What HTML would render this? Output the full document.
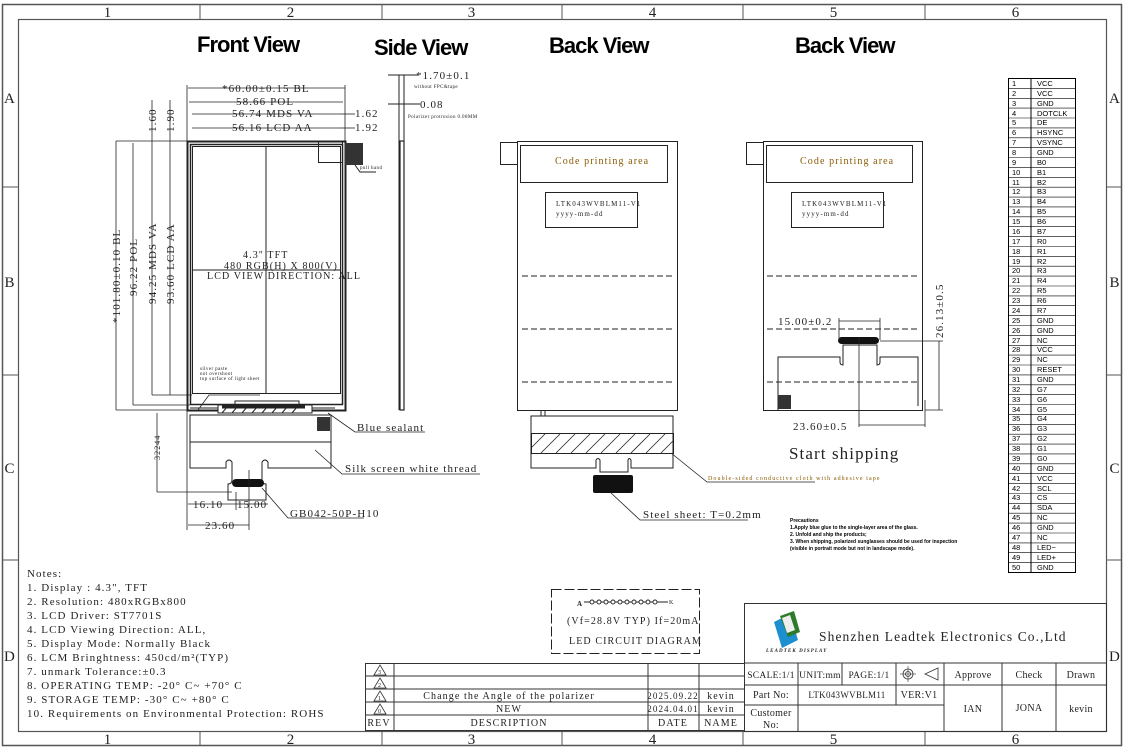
<!DOCTYPE html>
<html><head><meta charset="utf-8"><style>
html,body{margin:0;padding:0;background:#fff;}
svg{display:block;}
text{font-family:"Liberation Serif","Noto Serif CJK SC",serif;fill:#222;letter-spacing:1.1px;}
text.h{font-family:"Liberation Sans",sans-serif;font-weight:bold;font-size:22px;fill:#000;letter-spacing:-1px;}
.s{font-size:11px;}
.m{font-size:10px;}
.t{font-size:5px;letter-spacing:0.4px;}
.p text{font-family:"Liberation Sans",sans-serif;font-size:7.5px;fill:#000;letter-spacing:0;}
.pr text{font-family:"Liberation Sans",sans-serif;font-weight:bold;font-size:5px;fill:#000;letter-spacing:0;}
.tb text{letter-spacing:0.3px;}
.c{fill:#8a5a00;}
</style></head><body>
<svg width="1125" height="747" viewBox="0 0 1125 747" xmlns="http://www.w3.org/2000/svg" fill="none" stroke="#222" stroke-width="1">
<!-- frame -->
<rect x="2.5" y="4.5" width="1119" height="741" stroke="#555" stroke-width="1.5"/>
<rect x="18.5" y="19.5" width="1088" height="712" stroke="#555" stroke-width="1.2"/>
<g stroke="#555">
<line x1="200" y1="4" x2="200" y2="19"/><line x1="382" y1="4" x2="382" y2="19"/><line x1="562" y1="4" x2="562" y2="19"/><line x1="743" y1="4" x2="743" y2="19"/><line x1="925" y1="4" x2="925" y2="19"/>
<line x1="200" y1="731" x2="200" y2="746"/><line x1="382" y1="731" x2="382" y2="746"/><line x1="562" y1="731" x2="562" y2="746"/><line x1="743" y1="731" x2="743" y2="746"/><line x1="925" y1="731" x2="925" y2="746"/>
<line x1="2" y1="187" x2="18" y2="187"/><line x1="2" y1="375" x2="18" y2="375"/><line x1="2" y1="560" x2="18" y2="560"/>
<line x1="1107" y1="187" x2="1122" y2="187"/><line x1="1107" y1="375" x2="1122" y2="375"/><line x1="1107" y1="560" x2="1122" y2="560"/>
</g>
<g font-size="15" text-anchor="middle" stroke="none">
<text x="108" y="17" fill="#246">1</text><text x="291" y="17" fill="#246">2</text><text x="472" y="17" fill="#246">3</text><text x="653" y="17" fill="#246">4</text><text x="834" y="17" fill="#246">5</text><text x="1016" y="17" fill="#246">6</text>
<text x="108" y="744" fill="#246">1</text><text x="291" y="744" fill="#246">2</text><text x="472" y="744" fill="#246">3</text><text x="653" y="744" fill="#246">4</text><text x="834" y="744" fill="#246">5</text><text x="1016" y="744" fill="#246">6</text>
<text x="10" y="103" fill="#246">A</text><text x="10" y="287" fill="#246">B</text><text x="10" y="473" fill="#246">C</text><text x="10" y="661" fill="#246">D</text>
<text x="1115" y="103" fill="#246">A</text><text x="1115" y="287" fill="#246">B</text><text x="1115" y="473" fill="#246">C</text><text x="1115" y="661" fill="#246">D</text>
</g>
<!-- headings -->
<g stroke="none">
<text class="h" x="197" y="52">Front View</text>
<text class="h" x="374" y="55">Side View</text>
<text class="h" x="549" y="53">Back View</text>
<text class="h" x="795" y="53">Back View</text>
</g>

<!-- FRONT VIEW -->
<rect x="187.5" y="141.5" width="158" height="269" stroke-width="2"/>
<rect x="190.5" y="144.5" width="152" height="260" stroke-width="1.5"/>
<rect x="192.5" y="146.5" width="148" height="247"/>
<line x1="266" y1="146" x2="266" y2="393"/>
<line x1="192" y1="270" x2="340" y2="270"/>
<rect x="318.5" y="141.5" width="24" height="21"/>
<rect x="345" y="143" width="18" height="22" fill="#333" stroke="none"/>
<path d="M355 165 L360 172 L376 172"/>
<text class="t" x="360" y="169" stroke="none">pull hand</text>
<rect x="235" y="401" width="64" height="4"/>
<path d="M190 408 H335" stroke-width="1"/>
<!-- FPC -->
<rect x="218" y="405" width="94" height="8" fill="#fff"/>
<path d="M222 407 H305" stroke-width="3"/>
<path d="M222 413 l5 -6 M232 413 l5 -6 M242 413 l5 -6 M252 413 l5 -6 M262 413 l5 -6 M272 413 l5 -6 M282 413 l5 -6 M292 413 l5 -6"/>
<path d="M190 415 H331 V468 H268 V462 Q265 458 262 462 V480 Q262 484 266 484 V500 H228 V484 Q232 484 232 480 V462 Q229 458 226 462 V468 H190 Z"/>
<line x1="190" y1="442" x2="331" y2="442"/>
<rect x="317" y="417" width="13" height="14" fill="#333" stroke="none"/>
<rect x="232" y="479" width="32" height="8" rx="4" fill="#111" stroke="none"/>
<!-- front view dims -->
<g stroke-width="0.8">
<line x1="187" y1="141" x2="187" y2="85"/><line x1="345" y1="141" x2="345" y2="85"/>
<line x1="188" y1="88" x2="345" y2="88"/>
<line x1="189" y1="102" x2="343" y2="102"/>
<line x1="192" y1="114" x2="340" y2="114"/>
<line x1="192" y1="128" x2="340" y2="128"/>
<line x1="340" y1="114" x2="355" y2="114"/><line x1="340" y1="128" x2="355" y2="128"/>
<line x1="116" y1="141" x2="188" y2="141"/><line x1="116" y1="410" x2="188" y2="410"/>
<line x1="116" y1="141" x2="116" y2="410"/>
<line x1="133" y1="143" x2="133" y2="405"/>
<line x1="152" y1="100" x2="152" y2="395"/>
<line x1="170" y1="100" x2="170" y2="395"/>
<line x1="133" y1="405" x2="190" y2="405"/><line x1="152" y1="395" x2="192" y2="395"/>
<line x1="157" y1="413" x2="157" y2="492"/><line x1="157" y1="492" x2="232" y2="492"/>
<line x1="187" y1="410" x2="187" y2="530"/><line x1="249" y1="470" x2="249" y2="530"/><line x1="236" y1="492" x2="236" y2="510"/>
<line x1="188" y1="504" x2="236" y2="504"/><line x1="236" y1="504" x2="268" y2="504"/>
<line x1="188" y1="525" x2="249" y2="525"/>
<path d="M328 413 L355 432 H425"/>
<path d="M315 450 L342 474 H480"/>
<path d="M262 488 L288 518 H364"/>
<path d="M198 410 L209 395 H260"/>
</g>
<g stroke="none" class="s">
<text x="222" y="92">*60.00±0.15 BL</text>
<text x="236" y="105">58.66 POL</text>
<text x="232" y="117">56.74 MDS VA</text>
<text x="232" y="131">56.16 LCD AA</text>
<text x="355" y="117">1.62</text>
<text x="355" y="131">1.92</text>
<text x="243" y="258" class="m">4.3" TFT</text>
<text x="224" y="269" class="m">480 RGB(H) X 800(V)</text>
<text x="207" y="279" class="m">LCD VIEW DIRECTION: ALL</text>
<text class="t" x="200" y="370">silver paste</text>
<text class="t" x="200" y="375">not overshoot</text>
<text class="t" x="200" y="380">top surface of light sheet</text>
<text x="357" y="431">Blue sealant</text>
<text x="345" y="472">Silk screen white thread</text>
<text x="290" y="517">GB042-50P-H10</text>
<text x="193" y="508">16.10</text><text x="237" y="508">15.00</text>
<text x="205" y="529">23.60</text>
<text transform="translate(120,323) rotate(-90)">*101.80±0.10 BL</text>
<text transform="translate(137,296) rotate(-90)">96.22 POL</text>
<text transform="translate(156,304) rotate(-90)">94.25 MDS VA</text>
<text transform="translate(174,304) rotate(-90)">93.60 LCD AA</text>
<text transform="translate(156,132) rotate(-90)">1.60</text>
<text transform="translate(174,132) rotate(-90)">1.90</text>
<text transform="translate(160,460) rotate(-90)" font-size="8" font-family="Liberation Sans">32244</text>
</g>

<!-- SIDE VIEW -->
<line x1="399" y1="75" x2="399" y2="410"/><line x1="404" y1="75" x2="404" y2="410"/>
<rect x="400" y="141" width="4" height="269" stroke-width="1.2"/>
<line x1="388" y1="75" x2="418" y2="75"/><line x1="388" y1="104" x2="420" y2="104"/>
<g stroke="none">
<text class="s" x="416" y="79">*1.70±0.1</text>
<text class="t" x="414" y="88">without FPC&amp;tape</text>
<text class="s" x="420" y="108">0.08</text>
<text class="t" x="408" y="118">Polarizer protrusion 0.08MM</text>
</g>

<!-- BACK VIEW 1 -->
<rect x="517.5" y="141.5" width="160" height="269"/>
<rect x="500.5" y="142.5" width="17" height="22"/>
<rect x="520.5" y="145.5" width="147" height="37"/>
<rect x="545.5" y="192.5" width="92" height="35"/>
<g stroke-dasharray="6,3"><line x1="522" y1="276" x2="673" y2="276"/><line x1="522" y1="329" x2="673" y2="329"/><line x1="522" y1="382" x2="673" y2="382"/></g>
<path d="M531 416 H673 V468 H631 V460 Q629 457 628 460 V472 H600 V460 Q598 457 596 460 V468 H531 Z"/>
<line x1="541" y1="410" x2="541" y2="416"/><line x1="545" y1="410" x2="545" y2="416"/>
<rect x="531.5" y="433.5" width="142" height="20"/>
<g stroke-width="0.8"><path d="M531 448 l14 -14 M541 453 l19 -19 M556 453 l19 -19 M571 453 l19 -19 M586 453 l19 -19 M601 453 l19 -19 M616 453 l19 -19 M631 453 l19 -19 M646 453 l19 -19 M661 453 l12 -12"/></g>
<rect x="593" y="475" width="40" height="18" rx="2" fill="#111" stroke="none"/>
<path d="M671 453 L707 482 H815" stroke-width="0.8"/>
<path d="M610 492 L640 520 H748" stroke-width="0.8"/>
<g stroke="none">
<text class="m c" x="555" y="164">Code printing area</text>
<text x="556" y="206" font-size="7" letter-spacing="0.4">LTK043WVBLM11-V1</text>
<text x="556" y="216" font-size="7" letter-spacing="0.4">yyyy-mm-dd</text>
<text class="c" x="708" y="480" font-size="6" letter-spacing="0.5">Double-sided conductive cloth with adhesive tape</text>
<text class="s" x="643" y="518">Steel sheet: T=0.2mm</text>
</g>

<!-- BACK VIEW 2 -->
<rect x="763.5" y="141.5" width="159" height="269"/>
<rect x="746.5" y="142.5" width="17" height="22"/>
<rect x="766.5" y="145.5" width="146" height="37"/>
<rect x="791.5" y="192.5" width="92" height="35"/>
<g stroke-dasharray="6,3"><line x1="767" y1="276" x2="920" y2="276"/><line x1="767" y1="329" x2="920" y2="329"/><line x1="767" y1="382" x2="920" y2="382"/></g>
<path d="M778 410 V357 H840 V362 Q840 365 843 365 V345 H877 V365 Q880 365 880 362 V357 H918 V406"/>
<rect x="838" y="337" width="41" height="7" rx="3.5" fill="#111" stroke="none"/>
<rect x="778" y="395" width="13" height="14" fill="#333" stroke="none"/>
<g stroke-width="0.8">
<line x1="839" y1="321" x2="880" y2="321"/><line x1="839" y1="318" x2="839" y2="340"/><line x1="880" y1="318" x2="880" y2="340"/>
<line x1="859" y1="337" x2="859" y2="427"/><line x1="925" y1="400" x2="925" y2="427"/><line x1="859" y1="425" x2="925" y2="425"/>
<line x1="880" y1="341" x2="943" y2="341"/><line x1="925" y1="410" x2="943" y2="410"/><line x1="939" y1="341" x2="939" y2="410"/>
</g>
<g stroke="none">
<text class="m c" x="800" y="164">Code printing area</text>
<text x="802" y="206" font-size="7" letter-spacing="0.4">LTK043WVBLM11-V1</text>
<text x="802" y="216" font-size="7" letter-spacing="0.4">yyyy-mm-dd</text>
<text class="s" x="778" y="325">15.00±0.2</text>
<text class="s" x="793" y="430">23.60±0.5</text>
<text class="s" transform="translate(943,338) rotate(-90)">26.13±0.5</text>
<text x="789" y="459" font-size="17" letter-spacing="2.4">Start shipping</text>
<g class="pr">
<text x="790" y="522">Precautions</text>
<text x="790" y="529">1.Apply blue glue to the single-layer area of the glass.</text>
<text x="790" y="536">2. Unfold and ship the products;</text>
<text x="790" y="543">3. When shipping, polarized sunglasses should be used for inspection</text>
<text x="790" y="550">(visible in portrait mode but not in landscape mode).</text>
</g>
</g>

<!-- PIN TABLE -->
<rect x="1008.5" y="78.5" width="67" height="494" stroke="#000"/>
<line x1="1031" y1="78" x2="1031" y2="572" stroke="#000"/>
<g stroke="#000" stroke-width="0.6">
<path d="M1008 88.4H1075M1008 98.3H1075M1008 108.1H1075M1008 118H1075M1008 127.9H1075M1008 137.8H1075M1008 147.7H1075M1008 157.5H1075M1008 167.4H1075M1008 177.3H1075M1008 187.2H1075M1008 197.1H1075M1008 206.9H1075M1008 216.8H1075M1008 226.7H1075M1008 236.6H1075M1008 246.5H1075M1008 256.3H1075M1008 266.2H1075M1008 276.1H1075M1008 286H1075M1008 295.9H1075M1008 305.7H1075M1008 315.6H1075M1008 325.5H1075M1008 335.4H1075M1008 345.3H1075M1008 355.1H1075M1008 365H1075M1008 374.9H1075M1008 384.8H1075M1008 394.7H1075M1008 404.5H1075M1008 414.4H1075M1008 424.3H1075M1008 434.2H1075M1008 444.1H1075M1008 453.9H1075M1008 463.8H1075M1008 473.7H1075M1008 483.6H1075M1008 493.5H1075M1008 503.3H1075M1008 513.2H1075M1008 523.1H1075M1008 533H1075M1008 542.9H1075M1008 552.7H1075M1008 562.6H1075"/>
</g>
<g stroke="none" class="p">
<text x="1012" y="86">1</text><text x="1037" y="86">VCC</text>
<text x="1012" y="96">2</text><text x="1037" y="96">VCC</text>
<text x="1012" y="106">3</text><text x="1037" y="106">GND</text>
<text x="1012" y="116">4</text><text x="1037" y="116">DOTCLK</text>
<text x="1012" y="125">5</text><text x="1037" y="125">DE</text>
<text x="1012" y="135">6</text><text x="1037" y="135">HSYNC</text>
<text x="1012" y="145">7</text><text x="1037" y="145">VSYNC</text>
<text x="1012" y="155">8</text><text x="1037" y="155">GND</text>
<text x="1012" y="165">9</text><text x="1037" y="165">B0</text>
<text x="1012" y="175">10</text><text x="1037" y="175">B1</text>
<text x="1012" y="185">11</text><text x="1037" y="185">B2</text>
<text x="1012" y="194">12</text><text x="1037" y="194">B3</text>
<text x="1012" y="204">13</text><text x="1037" y="204">B4</text>
<text x="1012" y="214">14</text><text x="1037" y="214">B5</text>
<text x="1012" y="224">15</text><text x="1037" y="224">B6</text>
<text x="1012" y="234">16</text><text x="1037" y="234">B7</text>
<text x="1012" y="244">17</text><text x="1037" y="244">R0</text>
<text x="1012" y="254">18</text><text x="1037" y="254">R1</text>
<text x="1012" y="264">19</text><text x="1037" y="264">R2</text>
<text x="1012" y="273">20</text><text x="1037" y="273">R3</text>
<text x="1012" y="283">21</text><text x="1037" y="283">R4</text>
<text x="1012" y="293">22</text><text x="1037" y="293">R5</text>
<text x="1012" y="303">23</text><text x="1037" y="303">R6</text>
<text x="1012" y="313">24</text><text x="1037" y="313">R7</text>
<text x="1012" y="323">25</text><text x="1037" y="323">GND</text>
<text x="1012" y="333">26</text><text x="1037" y="333">GND</text>
<text x="1012" y="343">27</text><text x="1037" y="343">NC</text>
<text x="1012" y="352">28</text><text x="1037" y="352">VCC</text>
<text x="1012" y="362">29</text><text x="1037" y="362">NC</text>
<text x="1012" y="372">30</text><text x="1037" y="372">RESET</text>
<text x="1012" y="382">31</text><text x="1037" y="382">GND</text>
<text x="1012" y="392">32</text><text x="1037" y="392">G7</text>
<text x="1012" y="402">33</text><text x="1037" y="402">G6</text>
<text x="1012" y="412">34</text><text x="1037" y="412">G5</text>
<text x="1012" y="421">35</text><text x="1037" y="421">G4</text>
<text x="1012" y="431">36</text><text x="1037" y="431">G3</text>
<text x="1012" y="441">37</text><text x="1037" y="441">G2</text>
<text x="1012" y="451">38</text><text x="1037" y="451">G1</text>
<text x="1012" y="461">39</text><text x="1037" y="461">G0</text>
<text x="1012" y="471">40</text><text x="1037" y="471">GND</text>
<text x="1012" y="481">41</text><text x="1037" y="481">VCC</text>
<text x="1012" y="491">42</text><text x="1037" y="491">SCL</text>
<text x="1012" y="500">43</text><text x="1037" y="500">CS</text>
<text x="1012" y="510">44</text><text x="1037" y="510">SDA</text>
<text x="1012" y="520">45</text><text x="1037" y="520">NC</text>
<text x="1012" y="530">46</text><text x="1037" y="530">GND</text>
<text x="1012" y="540">47</text><text x="1037" y="540">NC</text>
<text x="1012" y="550">48</text><text x="1037" y="550">LED−</text>
<text x="1012" y="560">49</text><text x="1037" y="560">LED+</text>
<text x="1012" y="570">50</text><text x="1037" y="570">GND</text>
</g>

<!-- NOTES -->
<g stroke="none" class="s">
<text x="27" y="577">Notes:</text>
<text x="27" y="591">1. Display : 4.3", TFT</text>
<text x="27" y="605">2. Resolution: 480xRGBx800</text>
<text x="27" y="619">3. LCD Driver: ST7701S</text>
<text x="27" y="633">4. LCD Viewing Direction: ALL,</text>
<text x="27" y="647">5. Display Mode: Normally Black</text>
<text x="27" y="661">6. LCM Bringhtness: 450cd/m²(TYP)</text>
<text x="27" y="675">7. unmark Tolerance:±0.3</text>
<text x="27" y="689">8. OPERATING TEMP: -20° C~ +70° C</text>
<text x="27" y="703">9. STORAGE TEMP: -30° C~ +80° C</text>
<text x="27" y="717">10. Requirements on Environmental Protection: ROHS</text>
</g>

<!-- LED circuit -->
<rect x="551.5" y="589.5" width="148" height="64" stroke-dasharray="10,3"/>
<line x1="584" y1="602" x2="668" y2="602" stroke-width="1"/>
<g fill="#fff" stroke-width="0.9">
<circle cx="592" cy="602" r="2"/><circle cx="599" cy="602" r="2"/><circle cx="606" cy="602" r="2"/><circle cx="613" cy="602" r="2"/><circle cx="620" cy="602" r="2"/><circle cx="627" cy="602" r="2"/><circle cx="634" cy="602" r="2"/><circle cx="641" cy="602" r="2"/><circle cx="648" cy="602" r="2"/><circle cx="655" cy="602" r="2"/>
</g>
<g stroke="none">
<text x="577" y="606" font-size="7" font-weight="bold">A</text>
<text x="669" y="604" font-size="6">K</text>
<text class="m" x="567" y="624" letter-spacing="0.7">(Vf=28.8V TYP) If=20mA</text>
<text class="m" x="569" y="644" letter-spacing="0.7">LED CIRCUIT DIAGRAM</text>
</g>

<!-- revision table -->
<g stroke="#333">
<rect x="365.5" y="663.5" width="379" height="67"/>
<line x1="365" y1="676" x2="744" y2="676"/><line x1="365" y1="689" x2="744" y2="689"/><line x1="365" y1="702" x2="744" y2="702"/><line x1="365" y1="715" x2="744" y2="715"/>
<line x1="394" y1="663" x2="394" y2="731"/><line x1="648" y1="663" x2="648" y2="731"/><line x1="699" y1="663" x2="699" y2="731"/>
<path d="M374 675 L380 665 L386 675 Z M374 688 L380 678 L386 688 Z M374 701 L380 691 L386 701 Z M374 714 L380 704 L386 714 Z" stroke-width="0.8"/>
</g>
<g stroke="none" font-size="6" text-anchor="middle"><text x="380" y="674">3</text><text x="380" y="687">2</text><text x="380" y="700">1</text><text x="380" y="713">0</text></g>
<g stroke="none" class="m" text-anchor="middle">
<text x="509" y="699" letter-spacing="1.7">Change the Angle of the polarizer</text>
<text x="509" y="712">NEW</text>
<text x="379" y="726">REV</text>
<text x="509" y="726">DESCRIPTION</text>
<text x="673" y="699" font-size="9" letter-spacing="0">2025.09.22</text>
<text x="673" y="712" font-size="9" letter-spacing="0">2024.04.01</text>
<text x="673" y="726">DATE</text>
<text x="721" y="699">kevin</text><text x="721" y="712">kevin</text><text x="721" y="726">NAME</text>
</g>

<!-- title block -->
<g stroke="#333">
<rect x="744.5" y="603.5" width="362" height="128"/>
<line x1="744" y1="663" x2="1107" y2="663"/>
<line x1="744" y1="685" x2="1107" y2="685"/>
<line x1="744" y1="705" x2="944" y2="705"/>
<line x1="798" y1="663" x2="798" y2="731"/><line x1="842" y1="663" x2="842" y2="685"/>
<line x1="896" y1="663" x2="896" y2="705"/><line x1="944" y1="663" x2="944" y2="731"/>
<line x1="1002" y1="663" x2="1002" y2="731"/><line x1="1056" y1="663" x2="1056" y2="731"/>
<circle cx="908" cy="674" r="5" stroke-width="0.8"/><circle cx="908" cy="674" r="2.5" stroke-width="0.8"/>
<line x1="900" y1="674" x2="916" y2="674" stroke-width="0.6"/><line x1="908" y1="666" x2="908" y2="682" stroke-width="0.6"/>
<path d="M925 674 L938 668 V680 Z" stroke-width="0.8"/>
</g>
<!-- logo -->
<g stroke="none">
<path d="M774 622 L790 614 L798 640 L782 648 Z" fill="#1b8fd0"/>
<path d="M780 616 L794 611 L800 632 L788 637 Z" fill="#2d7a2a"/>
<path d="M782 618 L790 615 L795 630 L787 633 Z" fill="#eee"/>
<text x="766" y="652" font-size="5" font-style="italic" font-weight="bold" fill="#000" letter-spacing="0">LEADTEK DISPLAY</text>
<text x="819" y="641" font-size="13.5" letter-spacing="1.5">Shenzhen Leadtek Electronics Co.,Ltd</text>
</g>
<g stroke="none" class="m tb" text-anchor="middle">
<text x="771" y="678" font-size="9.5" letter-spacing="0">SCALE:1/1</text>
<text x="820" y="678" font-size="9.5" letter-spacing="0">UNIT:mm</text>
<text x="869" y="678" font-size="9.5" letter-spacing="0">PAGE:1/1</text>
<text x="973" y="678">Approve</text>
<text x="1029" y="678">Check</text>
<text x="1081" y="678">Drawn</text>
<text x="771" y="698">Part No:</text>
<text x="847" y="698" font-size="9">LTK043WVBLM11</text>
<text x="919" y="698">VER:V1</text>
<text x="771" y="716">Customer</text>
<text x="771" y="728">No:</text>
<text x="973" y="712">IAN</text>
<text x="1029" y="711">JONA</text>
<text x="1081" y="712">kevin</text>
</g>
</svg>
</body></html>
